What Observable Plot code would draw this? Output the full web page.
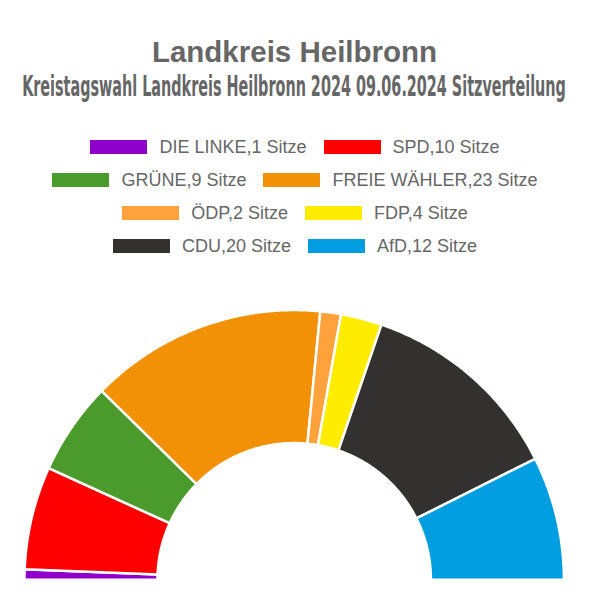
<!DOCTYPE html>
<html>
<head>
<meta charset="utf-8">
<script src="https://cdn.jsdelivr.net/npm/d3@7"></script>
<script src="https://cdn.jsdelivr.net/npm/@observablehq/plot@0.6"></script>
<style>
  body { margin: 0; background: #fff; }
  #wrap { position: relative; width: 589px; height: 600px; overflow: hidden; font-family: "Liberation Sans", Arial, sans-serif; color: #666; }
  #title { position: absolute; left: 0; width: 589px; top: 37.3px; text-align: center; font-size: 29.5px; line-height: 29.5px; font-weight: bold; }
  #sub { position: absolute; left: 294px; top: 73px; white-space: nowrap; line-height: 28px; font-family: "Liberation Sans Narrow", "DejaVu Sans Condensed", sans-serif; font-weight: bold; font-size: 28px; transform-origin: center; }
  .row { position: absolute; left: 0; width: 590px; height: 33px; display: flex; justify-content: center; align-items: center; font-size: 18px; line-height: 18px; }
  .item { display: flex; align-items: center; margin: 0 8.5px; }
  .sw { width: 57px; height: 14px; margin-right: 12px; }
  #chart { position: absolute; left: 0; top: 270px; }
</style>
</head>
<body>
<div id="wrap">
  <div id="title">Landkreis Heilbronn</div>
  <span id="sub">Kreistagswahl Landkreis Heilbronn 2024 09.06.2024 Sitzverteilung</span>
  <div id="legend"></div>
  <div id="chart"></div>
</div>
<script>
const parties = ["DIE LINKE", "SPD", "GRÜNE", "FREIE WÄHLER", "ÖDP", "FDP", "CDU", "AfD"];
const seats = [1, 10, 9, 23, 2, 4, 20, 12];
const colors = ["#9000cc", "#ff0000", "#4a9a2c", "#f29105", "#ffa23c", "#ffec00", "#323130", "#009ee0"];
const seatLabel = "Sitze";

// fit subtitle width to the reference span
const sub = document.getElementById("sub");
const w = sub.offsetWidth;
sub.style.transform = `translateX(-50%) scaleX(${544 / w})`;

// legend
const legend = document.getElementById("legend");
for (let r = 0; r < Math.ceil(parties.length / 2); r++) {
  const row = document.createElement("div");
  row.className = "row";
  row.style.top = (130.5 + r * 33) + "px";
  for (let c = 0; c < 2; c++) {
    const i = r * 2 + c;
    if (i >= parties.length) break;
    const item = document.createElement("div");
    item.className = "item";
    const sw = document.createElement("div");
    sw.className = "sw";
    sw.style.background = colors[i];
    const t = document.createElement("span");
    t.textContent = `${parties[i]},${seats[i]} ${seatLabel}`;
    item.appendChild(sw);
    item.appendChild(t);
    row.appendChild(item);
  }
  legend.appendChild(row);
}

// half-donut polygons in data space
const total = d3.sum(seats);
const inner = 0.507;
const pts = [];
let cum = 0;
parties.forEach((p, i) => {
  const a0 = Math.PI - (cum / total) * Math.PI;
  cum += seats[i];
  const a1 = Math.PI - (cum / total) * Math.PI;
  const n = Math.max(4, Math.ceil(seats[i] * 6));
  for (let k = 0; k <= n; k++) {
    const a = a0 + (a1 - a0) * k / n;
    pts.push({party: p, x: Math.cos(a), y: Math.sin(a)});
  }
  for (let k = n; k >= 0; k--) {
    const a = a0 + (a1 - a0) * k / n;
    pts.push({party: p, x: inner * Math.cos(a), y: inner * Math.sin(a)});
  }
  pts.push({party: p, x: Math.cos(a0), y: Math.sin(a0)});
});

const chart = Plot.plot({
  width: 589,
  height: 330,
  marginLeft: 24,
  marginRight: 25.6,
  marginTop: 39.6,
  marginBottom: 20.7,
  x: {domain: [-1, 1], axis: null},
  y: {domain: [0, 1], axis: null},
  color: {domain: parties, range: colors},
  marks: [
    Plot.line(pts, {x: "x", y: "y", z: "party", fill: "party", stroke: "white", strokeWidth: 2.5, strokeLinejoin: "miter"})
  ]
});
document.getElementById("chart").appendChild(chart);
</script>
</body>
</html>
